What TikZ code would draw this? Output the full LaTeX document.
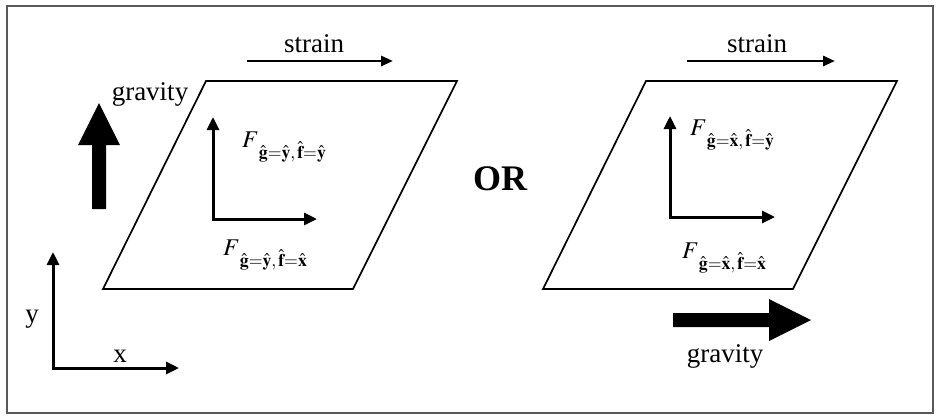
\documentclass[tikz,border=0pt]{standalone}
\usepackage{mathptmx}
\usepackage{fontspec}
\setmainfont{Liberation Serif}
\usetikzlibrary{arrows.meta}
\tikzset{
  ax/.style={{Triangle[length=13pt,width=12pt]}-{Triangle[length=13pt,width=12pt]},line width=3pt},
  sar/.style={-{Triangle[length=12pt,width=10pt]},line width=2.8pt},
  pl/.style={line width=1.7pt,line join=miter},
  lbl/.style={inner sep=0pt,anchor=base,font=\fontsize{27}{31}\selectfont},
  flbl/.style={inner sep=0pt,anchor=base west,font=\fontsize{24}{28}\selectfont}
}
\newcommand{\hb}[1]{\hat{\mathbf{#1}}}
\newcommand{\fsub}[2]{$F$\raisebox{-11pt}{$\scriptstyle\hb{g}=\hb{#1},\mkern2mu\hb{f}=\hb{#2}$}}

\begin{document}
\begin{tikzpicture}[x=1pt,y=-1pt]
\useasboundingbox (0,0) rectangle (936,416);
\draw[black!65,line width=2pt] (7,6) rectangle (933,413);
% planes and strain
\foreach \dx in {0,440}{
 \draw[pl] (206+\dx,81)--(457+\dx,81)--(353+\dx,289)--(103+\dx,289)--cycle;}
\node[lbl] (strl) at (314,52) {strain};
\node[lbl] (strr) at (757,52) {strain};
\coordinate (sl0) at (247,61); \coordinate (sl1) at (393,61);
\coordinate (sr0) at (687,61); \coordinate (sr1) at (835,61);
\draw[sar] (sl0)--(sl1);
\draw[sar] (sr0)--(sr1);
% gravity
\fill (92,209)--(92,145)--(78,145)--(99,103)--(120,145)--(106,145)--(106,209)--cycle;
\fill (673,313)--(769,313)--(769,299)--(811,320)--(769,341)--(769,327)--(673,327)--cycle;
\node[lbl] (gl) at (150,100) {gravity};
\node[lbl] (gr) at (725,362) {gravity};
% inner axes
\coordinate (ol) at (213,219); \coordinate (olx) at (317,219); \coordinate (oly) at (213,117);
\coordinate (or) at (670,217); \coordinate (orx) at (775,217); \coordinate (ory) at (670,116);
\draw[ax] (oly)--(ol)--(olx);
\draw[ax] (ory)--(or)--(orx);
\node[flbl] (fyy) at (242,147) {\fsub{y}{y}};
\node[flbl] (fyx) at (223,255) {\fsub{y}{x}};
\node[flbl] (fxy) at (690,135) {\fsub{x}{y}};
\node[flbl] (fxx) at (682,258) {\fsub{x}{x}};
\node[lbl,font=\fontsize{36}{40}\selectfont\bfseries] (orl) at (500,190) {OR};
% reference axes
\coordinate (o) at (53,368); \coordinate (ox) at (179,368); \coordinate (oy) at (53,252);
\draw[ax] (oy)--(o)--(ox);
\node[lbl] (ylab) at (32,322) {y};
\node[lbl] (xlab) at (120,362) {x};
\end{tikzpicture}
\end{document}
